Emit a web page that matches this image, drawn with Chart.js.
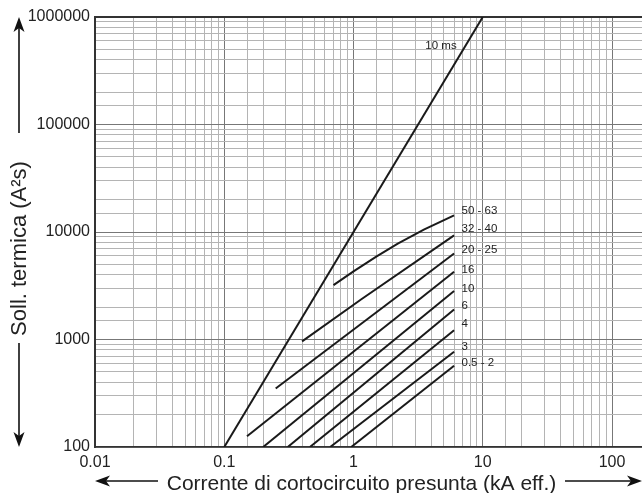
<!DOCTYPE html>
<html>
<head>
<meta charset="utf-8">
<script src="https://cdn.jsdelivr.net/npm/chart.js@4.4.1/dist/chart.umd.min.js"></script>
<style>
  html, body { margin: 0; padding: 0; background: #fff; }
  #wrap { width: 642px; height: 493px; position: relative; }
</style>
</head>
<body>
<div id="wrap"><canvas id="chart"></canvas></div>
<script>
'use strict';

// Curve names (rated current, A) and their points: current in kA, I²t in A²s
var curveNames = ['10 ms', '50 - 63', '32 - 40', '20 - 25', '16', '10', '6', '4', '3', '0.5 - 2'];
var curveX = [
    [0.1, 10],
    [0.7, 1.0, 1.5, 2.2, 3.5, 6],
    [0.4, 1.15, 6],
    [0.25, 6],
    [0.15, 6],
    [0.2, 6],
    [0.31, 6],
    [0.46, 6],
    [0.66, 6],
    [0.96, 6]
];
var curveY = [
    [100, 1000000],
    [3200, 4300, 5900, 7800, 10500, 14300],
    [960, 2370, 9300],
    [350, 6300],
    [126, 4260],
    [100, 2830],
    [100, 1900],
    [100, 1220],
    [100, 770],
    [100, 570]
];

// where each curve name is written (kA, A²s)
var labelX = [4.75, 6.85, 6.85, 6.85, 6.85, 6.85, 6.85, 6.85, 6.85, 6.85];
var labelY = [537000, 15600, 10800, 6780, 4410, 2930, 2040, 1390, 851, 610];

// axis ranges and tick labels
var xMin = 0.01, xMax = 170.6;
var yMin = 100, yMax = 1000000;
var xTickLabels = ['0.01', '0.1', '1', '10', '100'];
var yTickLabels = ['100', '1000', '10000', '100000', '1000000'];

var FONT = "'Liberation Sans', Arial, sans-serif";

var isDecade = function (v) {
    var l = Math.log10(v);
    return Math.abs(l - Math.round(l)) < 1e-6;
};

var tickText = function (list, v) {
    if (!isDecade(v)) return '';
    for (var i = 0; i < list.length; i++) {
        if (Math.abs(Number(list[i]) - v) / v < 1e-6) return list[i];
    }
    return '';
};

var datasets = curveNames.map(function (name, i) {
    return {
        label: name,
        data: curveX[i].map(function (x, j) { return { x: x, y: curveY[i][j] }; }),
        borderColor: '#1a1a1a',
        borderWidth: 2,
        pointRadius: 0,
        tension: 0,
        fill: false
    };
});

var drawArrow = function (ctx, x1, y1, x2, y2) {
    var ang = Math.atan2(y2 - y1, x2 - x1);
    var len = 15, half = 5.5, notch = 11;
    var c = Math.cos(ang), s = Math.sin(ang);
    ctx.beginPath();
    ctx.moveTo(x1, y1);
    ctx.lineTo(x2 - c * notch, y2 - s * notch);
    ctx.stroke();
    ctx.beginPath();
    ctx.moveTo(x2, y2);
    ctx.lineTo(x2 - c * len - s * half, y2 - s * len + c * half);
    ctx.lineTo(x2 - c * notch, y2 - s * notch);
    ctx.lineTo(x2 - c * len + s * half, y2 - s * len - c * half);
    ctx.closePath();
    ctx.fill();
};

// curve names, axis titles and the arrows beside them
var decorPlugin = {
    id: 'decor',
    afterDraw: function (chart) {
        var ctx = chart.ctx;
        var xs = chart.scales.x, ys = chart.scales.y;
        var area = chart.chartArea;

        ctx.save();
        ctx.fillStyle = '#222';
        ctx.font = '11.5px ' + FONT;
        ctx.textBaseline = 'middle';
        curveNames.forEach(function (name, i) {
            ctx.textAlign = i === 0 ? 'center' : 'left';
            ctx.fillText(name, xs.getPixelForValue(labelX[i]), ys.getPixelForValue(labelY[i]));
        });

        ctx.strokeStyle = '#111';
        ctx.fillStyle = '#111';
        ctx.lineWidth = 1.6;

        // y title
        ctx.save();
        ctx.translate(26, 248.5);
        ctx.rotate(-Math.PI / 2);
        ctx.font = '22px ' + FONT;
        ctx.textAlign = 'center';
        ctx.textBaseline = 'alphabetic';
        ctx.fillStyle = '#222';
        ctx.fillText(ys.options.title.text, 0, 0);
        ctx.restore();
        drawArrow(ctx, 19, area.top + 116, 19, area.top);
        drawArrow(ctx, 19, area.bottom - 104, 19, area.bottom);

        // x title
        ctx.font = '21px ' + FONT;
        ctx.textAlign = 'center';
        ctx.textBaseline = 'alphabetic';
        ctx.fillStyle = '#222';
        ctx.fillText(xs.options.title.text, area.left + 266.5, 490);
        ctx.fillStyle = '#111';
        drawArrow(ctx, area.left + 63, 481, area.left, 481);
        drawArrow(ctx, area.left + 470, 481, area.right, 481);
        ctx.restore();
    }
};

var gridColor = function (c, top) {
    var v = c.tick ? c.tick.value : null;
    if (v === null) return 'rgba(0,0,0,0)';
    if (top && Math.abs(v - yMax) < 1) return '#333';
    if (!top && v > 100.5) return 'rgba(0,0,0,0)';
    return isDecade(v) ? '#777' : '#b4b4b4';
};

new Chart(document.getElementById('chart'), {
    type: 'line',
    data: { datasets: datasets },
    options: {
        responsive: true,
        maintainAspectRatio: false,
        animation: false,
        layout: { padding: { top: 17, right: 0, left: 0, bottom: 0 } },
        plugins: {
            legend: { display: false },
            tooltip: { enabled: false }
        },
        scales: {
            x: {
                type: 'logarithmic',
                min: xMin,
                max: xMax,
                afterFit: function (scale) {
                    scale.height = 46;
                    scale.paddingRight = 0;
                },
                border: { color: '#333', width: 1.5 },
                grid: {
                    drawTicks: false,
                    color: function (c) { return gridColor(c, false); },
                    lineWidth: 1
                },
                ticks: {
                    autoSkip: false,
                    maxRotation: 0,
                    padding: 6,
                    color: '#222',
                    font: { family: FONT, size: 16 },
                    callback: function (v) { return tickText(xTickLabels, v); }
                },
                title: { display: false, text: 'Corrente di cortocircuito presunta (kA eff.)' }
            },
            y: {
                type: 'logarithmic',
                min: yMin,
                max: yMax,
                afterFit: function (scale) { scale.width = 95; },
                border: { color: '#333', width: 2 },
                grid: {
                    drawTicks: false,
                    color: function (c) { return gridColor(c, true); },
                    lineWidth: function (c) { return c.tick && Math.abs(c.tick.value - yMax) < 1 ? 2 : 1; }
                },
                ticks: {
                    autoSkip: false,
                    padding: 5,
                    color: '#222',
                    font: { family: FONT, size: 16 },
                    callback: function (v) { return tickText(yTickLabels, v); }
                },
                title: { display: false, text: 'Soll. termica (A²s)' }
            }
        }
    },
    plugins: [decorPlugin]
});
</script>
</body>
</html>
